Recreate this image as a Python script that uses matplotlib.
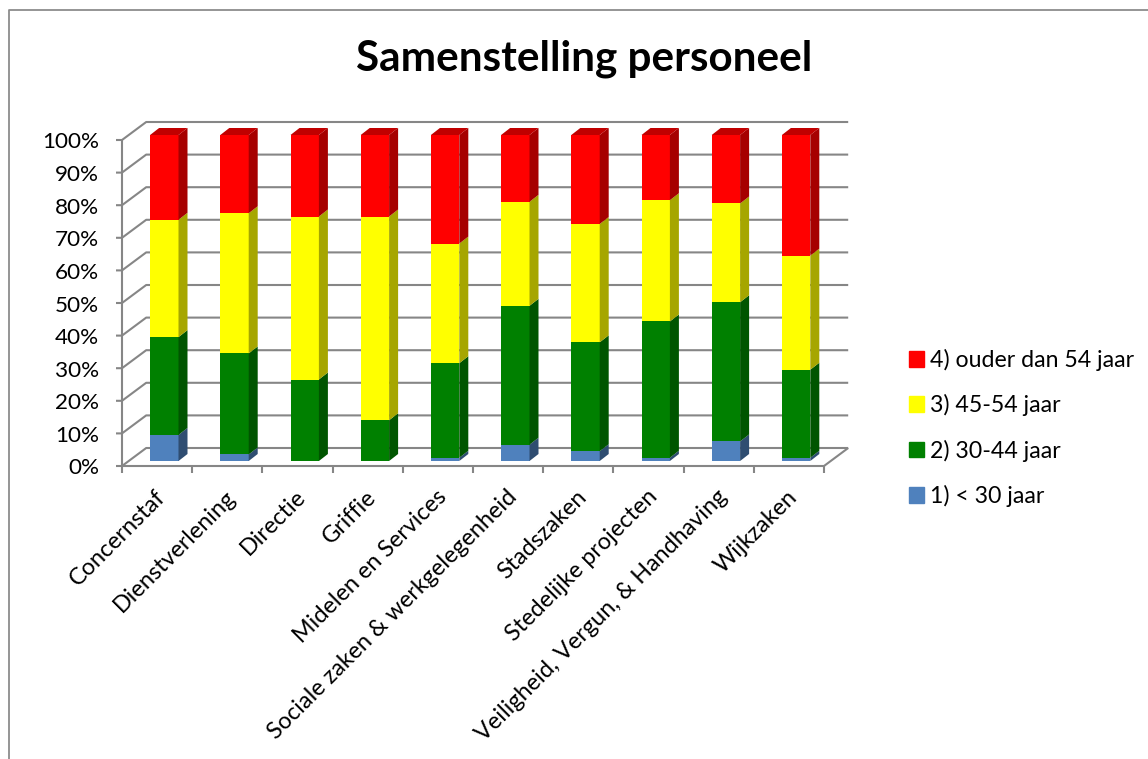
import matplotlib
matplotlib.use('Agg')
import matplotlib.pyplot as plt
from matplotlib.lines import Line2D
from matplotlib.patches import Patch, Polygon
import numpy as np

plt.rcParams['font.family'] = ['Lato', 'DejaVu Sans']

categories = ['Concernstaf', 'Dienstverlening', 'Directie', 'Griffie', 'Midelen en Services',
              'Sociale zaken & werkgelegenheid', 'Stadszaken', 'Stedelijke projecten',
              'Veiligheid, Vergun, & Handhaving', 'Wijkzaken']
series_names = ['1) < 30 jaar', '2) 30-44 jaar', '3) 45-54 jaar', '4) ouder dan 54 jaar']
under_30 = [8, 2, 0, 0, 1, 5, 3, 1, 6, 1]
age_30_44 = [30, 31, 25, 12.5, 29, 42.6, 33.4, 41.8, 42.7, 27]
age_45_54 = [36, 43, 50, 62.5, 36.7, 31.9, 36.3, 37.2, 30.3, 35]
over_54 = [26, 24, 25, 25, 33.3, 20.5, 27.3, 20, 21, 37]
y_ticks = list(range(0, 101, 10))

front_colors = ['#4F81BD', '#008000', '#FFFF00', '#FF0000']
side_colors = ['#2F4D71', '#005500', '#A6A600', '#A60000']
top_colors = ['#3F6797', '#006600', '#CCCC00', '#C00000']
grid_color = '#868686'

W, H = 1148, 759
PX_X = 70.2   # pixels per category
PX_Y = 3.26   # pixels per percent
X0, Y0 = 164.3, 461   # pixel of first bar centre, 0%


# shift a (category, percent) point by an offset in pixels, for the fake 3D
def at(cat, pct, dx=0, dy=0):
    return cat + dx / PX_X, pct + dy / PX_Y


FRONT = (-7.2, -5)
WALL = (17, 13)
BAR_DEPTH = (9, 7)
BAR_WIDTH = 28.4 / PX_X

fig = plt.figure(figsize=(W / 100, H / 100), dpi=100)
ax = fig.add_axes([0, 0, 1, 1])
ax.set_xlim(-X0 / PX_X, (W - X0) / PX_X)
ax.set_ylim(-(H - Y0) / PX_Y, Y0 / PX_Y)
ax.axis('off')

# chart area border, only top and left are in view
fig.add_artist(Line2D([1, 8.5 / W, 8.5 / W], [1 - 9.5 / H, 1 - 9.5 / H, 0], color='#8C8C8C', lw=1.3))

# gridlines and floor
n = len(categories)
line_style = dict(color=grid_color, lw=1.5, solid_capstyle='butt', zorder=1)
for v in y_ticks:
    p0 = at(-0.5, v, FRONT[0] - 6, FRONT[1])
    p1 = at(-0.5, v, *FRONT)
    p2 = at(-0.5, v, *WALL)
    p3 = at(n - 0.5, v, *WALL)
    ax.plot([p0[0], p1[0], p2[0], p3[0]], [p0[1], p1[1], p2[1], p3[1]], **line_style)
    ax.text(p1[0] - 23 / PX_X, p1[1] - 2.5 / PX_Y, f'{v}%', ha='right', va='center', fontsize=16.2)

p0, p1 = at(-0.5, 0, *FRONT), at(-0.5, 100, *FRONT)
ax.plot([p0[0], p1[0]], [p0[1], p1[1]], **line_style)
p2, p3 = at(n - 0.5, 0, *FRONT), at(n - 0.5, 0, *WALL)
ax.plot([p0[0], p2[0], p3[0]], [p0[1], p2[1], p3[1]], **line_style)
for i in range(n + 1):
    t0, t1 = at(i - 0.5, 0, FRONT[0], FRONT[1]), at(i - 0.5, 0, FRONT[0], FRONT[1] - 7)
    ax.plot([t0[0], t1[0]], [t0[1], t1[1]], **line_style)

# stacked bars with side and top faces
x = np.arange(n)
bottom = np.zeros(n)
stacks = [under_30, age_30_44, age_45_54, over_54]
for k, vals in enumerate(stacks):
    vals = np.array(vals, dtype=float)
    ax.bar(x, vals, BAR_WIDTH, bottom=bottom, color=front_colors[k], zorder=3)
    for i in range(n):
        if vals[i] == 0:
            continue
        right = x[i] + BAR_WIDTH / 2
        lo, hi = bottom[i], bottom[i] + vals[i]
        side = [(right, lo), (right, hi), at(right, hi, *BAR_DEPTH), at(right, lo, *BAR_DEPTH)]
        ax.add_patch(Polygon(side, closed=True, facecolor=side_colors[k], edgecolor='none', zorder=3))
        if k == len(stacks) - 1:
            left = x[i] - BAR_WIDTH / 2
            top = [(left, hi), (right, hi), at(right, hi, *BAR_DEPTH), at(left, hi, *BAR_DEPTH)]
            ax.add_patch(Polygon(top, closed=True, facecolor=top_colors[k], edgecolor='none', zorder=3))
    bottom += vals

# category labels
for i, name in enumerate(categories):
    lx, ly = at(i, 0, -2, -32.5)
    ax.text(lx, ly, name, rotation=45, rotation_mode='anchor', ha='right', va='center', fontsize=16.8)

fig.text(584 / W, 1 - 59 / H, 'Samenstelling personeel', ha='center', va='center', fontsize=30.4, fontweight='bold')

handles = [Patch(color=front_colors[k], label=series_names[k]) for k in range(3, -1, -1)]
ax.legend(handles=handles, loc='upper left', bbox_to_anchor=(909 / W, 1 - 349 / H), frameon=False, fontsize=16.7,
          handlelength=0.65, handleheight=0.65, handletextpad=0.26, labelspacing=1.0, borderpad=0, borderaxespad=0)

fig.savefig('out.png', dpi=100)
